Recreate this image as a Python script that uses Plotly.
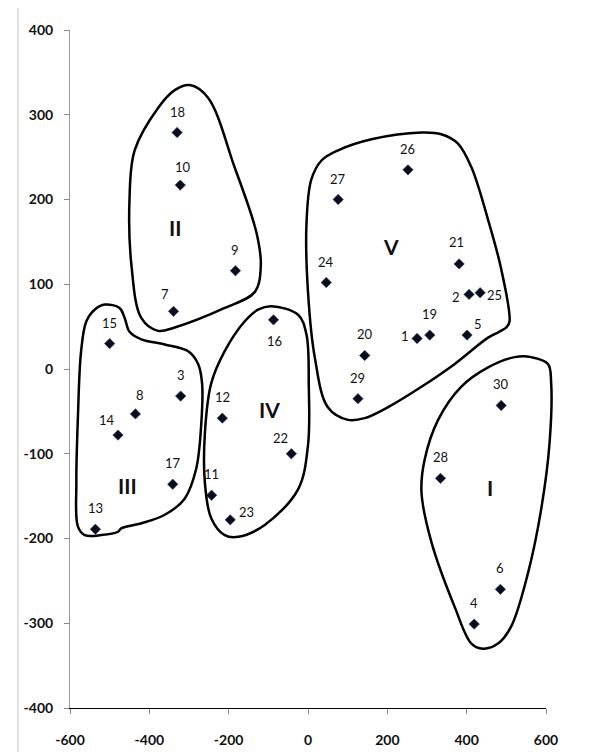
import plotly.graph_objects as go

# ---- data ----
ids = list(range(1, 31))
xs = [275, 406, -321, 419, 401, 485, -339, -435, -183, -322,
      -243, -216, -536, -479, -500, -87, -341, -330, 307, 143,
      381, -42, -196, 46, 434, 252, 76, 334, 126, 487]
ys = [36, 88, -32, -301, 40, -260, 68, -53, 116, 217,
      -149, -58, -189, -78, 30, 58, -136, 279, 40, 16,
      124, -100, -178, 102, 90, 235, 200, -129, -35, -43]

cluster_names = ["I", "II", "III", "IV", "V"]
cluster_x = [458, -336, -456, -96, 210]
cluster_y = [-140, 167, -138, -48, 145]

outline_I_x = [563, 605, 613, 609, 588, 554, 512, 479, 441, 412, 370, 311, 286, 294, 328, 386, 454, 521]
outline_I_y = [14, 6, -17, -87, -165, -242, -304, -324, -330, -324, -281, -204, -145, -107, -60, -21, 2, 14]

outline_II_x = [-298, -252, -185, -130, -119, -134, -210, -336, -378, -420, -445, -450, -437, -378, -336]
outline_II_y = [335, 320, 238, 161, 122, 91, 72, 49, 45, 60, 122, 200, 258, 308, 329]

outline_III_x = [-538, -512, -475, -462, -450, -420, -361, -302, -277, -267, -269, -282, -311, -361, -420,
                 -471, -479, -521, -563, -580, -584, -580, -572, -559]
outline_III_y = [70, 76, 72, 60, 44, 35, 29, 21, 6, -17, -64, -118, -153, -172, -182,
                 -188, -192, -196, -196, -186, -134, -56, 21, 56]

outline_IV_x = [-92, -25, -4, 2, 0, -25, -109, -176, -210, -244, -260, -260, -244, -210, -160, -126]
outline_IV_y = [74, 64, 41, -20, -90, -142, -184, -198, -196, -176, -134, -76, -17, 21, 56, 70]

outline_V_x = [76, 160, 286, 336, 378, 412, 454, 487, 508, 500, 454, 370, 286, 202, 143, 101, 50, 17, 0, -4, 8, 34]
outline_V_y = [258, 271, 279, 277, 266, 238, 176, 118, 56, 49, 37, 6, -21, -45, -58, -60, -45, 14, 91, 169, 223, 246]

x_ticks = [-600, -400, -200, 0, 200, 400, 600]
y_ticks = [-400, -300, -200, -100, 0, 100, 200, 300, 400]

# label offsets (pixels) for labels not placed straight above their marker
label_offsets = {7: (-9, 17), 8: (5, 19), 10: (3, 18), 14: (-11, 15), 22: (-11, 16),
                 21: (-3, 22), 5: (11, 11), 23: (16, 8), 16: (1, -21), 1: (-12, 2),
                 2: (-13, -3), 25: (14, -2)}

FONT = "Lato, 'Open Sans', 'DejaVu Sans', sans-serif"
W, H = 592, 752
ML, MR, MT, MB = 62, 30, 22, 43
main_w = 538 - 62
area_w = W - ML - MR
dom = main_w / area_w
x2_max = -600 + 1200 / dom

fig = go.Figure()

outlines = [(outline_I_x, outline_I_y), (outline_II_x, outline_II_y), (outline_III_x, outline_III_y),
            (outline_IV_x, outline_IV_y), (outline_V_x, outline_V_y)]
for ox, oy in outlines:
    fig.add_trace(go.Scatter(x=ox + ox[:1], y=oy + oy[:1], mode="lines",
                             line=dict(color="black", width=2.5, shape="spline", smoothing=1.0),
                             xaxis="x2", yaxis="y", hoverinfo="skip", showlegend=False))

fig.add_trace(go.Scatter(x=xs, y=ys, mode="markers",
                         marker=dict(symbol="diamond", size=8, color="#0b0b1e",
                                     line=dict(color="#1f3a6a", width=0.6)),
                         xaxis="x", yaxis="y", showlegend=False))

annotations = []
for i, x, y in zip(ids, xs, ys):
    dx, dy = label_offsets.get(i, (0, 21))
    annotations.append(dict(x=x, y=y, xref="x", yref="y", text=str(i), showarrow=False,
                            xshift=dx, yshift=dy,
                            font=dict(family=FONT, size=13, color="#111")))
for name, cx, cy in zip(cluster_names, cluster_x, cluster_y):
    annotations.append(dict(x=cx, y=cy, xref="x", yref="y", text="<b>%s</b>" % name, showarrow=False,
                            font=dict(family=FONT, size=21, color="#111")))

fig.update_layout(
    width=W, height=H,
    margin=dict(l=ML, r=MR, t=MT, b=MB),
    paper_bgcolor="white", plot_bgcolor="rgba(0,0,0,0)",
    showlegend=False,
    xaxis=dict(domain=[0, dom], range=[-600, 600], tickvals=x_ticks,
               ticktext=["<b>%d</b>" % v for v in x_ticks],
               showline=True, linecolor="black", linewidth=1.3,
               ticks="outside", ticklen=5, tickcolor="#888", tickwidth=1,
               showgrid=False, zeroline=False, anchor="y",
               tickfont=dict(family=FONT, size=14, color="#111"),
               ticklabelstandoff=14),
    xaxis2=dict(domain=[0, 1], range=[-600, x2_max], visible=False, anchor="y",
                showgrid=False, zeroline=False),
    yaxis=dict(range=[-400, 400], tickvals=y_ticks,
               ticktext=["<b>%d</b>" % v for v in y_ticks],
               showline=True, linecolor="#9a9a9a", linewidth=1,
               ticks="outside", ticklen=5, tickcolor="#888", tickwidth=1,
               showgrid=False, zeroline=False, anchor="x",
               tickfont=dict(family=FONT, size=14, color="#111"),
               ticklabelstandoff=8),
    annotations=annotations,
    shapes=[dict(type="line", xref="paper", yref="paper",
                 x0=(10 - ML) / area_w, x1=(10 - ML) / area_w, y0=-0.07, y1=1.04,
                 line=dict(color="#c8c8c8", width=1))],
)

fig.write_html("out.html")
